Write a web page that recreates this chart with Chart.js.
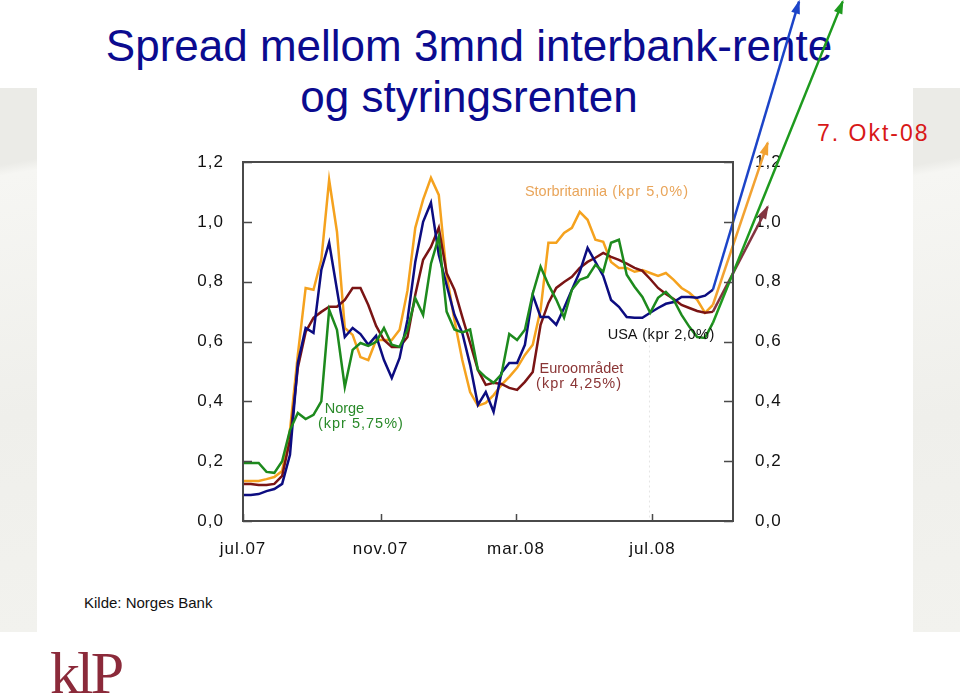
<!DOCTYPE html>
<html>
<head>
<meta charset="utf-8">
<script src="https://cdn.jsdelivr.net/npm/chart.js@4/dist/chart.umd.min.js"></script>
<style>
  html,body{margin:0;padding:0;}
  body{width:960px;height:698px;position:relative;background:#fff;overflow:hidden;font-family:"Liberation Sans",Arial,sans-serif;}
  .panel{position:absolute;top:88px;height:544px;background:linear-gradient(170deg,#ebebe7 0%,#ebebe7 14%,#f6f6f3 16%,#efefeb 60%,#f2f2ee 100%);}
  #pl{left:0;width:37px;}
  #pr{left:913px;width:47px;}
  #title{position:absolute;left:0;top:20px;width:938px;text-align:center;color:#0b0b8f;font-size:44px;line-height:51px;}
  #c{position:absolute;left:0;top:0;}
  #okt{position:absolute;left:817px;top:118px;color:#d81818;font-size:23px;letter-spacing:2px;line-height:30px;}
  #kilde{position:absolute;left:84px;top:594px;font-size:15px;color:#111;}
  #logo{position:absolute;left:50px;top:641px;font-family:"Liberation Serif",serif;font-size:60px;line-height:64px;color:#8b2a3a;letter-spacing:-3px;}
</style>
</head>
<body>
<div class="panel" id="pl"></div>
<div class="panel" id="pr"></div>
<div id="title">Spread mellom 3mnd interbank-rente<br>og styringsrenten</div>
<div id="okt">7. Okt-08</div>
<div id="kilde">Kilde: Norges Bank</div>
<div id="logo">klP</div>
<canvas id="c" width="960" height="698"></canvas>
<script>
// ---- data (weekly observations, spread in percentage points) ----
const dates = [
 '2007-07-01','2007-07-08','2007-07-15','2007-07-22','2007-07-29',
 '2007-08-05','2007-08-12','2007-08-19','2007-08-26',
 '2007-09-02','2007-09-09','2007-09-16','2007-09-23','2007-09-30',
 '2007-10-07','2007-10-14','2007-10-21','2007-10-28',
 '2007-11-04','2007-11-11','2007-11-18','2007-11-25',
 '2007-12-02','2007-12-09','2007-12-16','2007-12-23','2007-12-30',
 '2008-01-06','2008-01-13','2008-01-20','2008-01-27',
 '2008-02-03','2008-02-10','2008-02-17','2008-02-24',
 '2008-03-02','2008-03-09','2008-03-16','2008-03-23','2008-03-30',
 '2008-04-06','2008-04-13','2008-04-20','2008-04-27',
 '2008-05-04','2008-05-11','2008-05-18','2008-05-25',
 '2008-06-01','2008-06-08','2008-06-15','2008-06-22','2008-06-29',
 '2008-07-06','2008-07-13','2008-07-20','2008-07-27',
 '2008-08-03','2008-08-10','2008-08-17','2008-08-24'
];
const usa = [0.087,0.087,0.090,0.100,0.107,0.124,0.221,0.528,0.645,0.629,
 0.839,0.930,0.773,0.615,0.645,0.625,0.589,0.619,0.538,0.478,
 0.545,0.672,0.866,1.000,1.064,0.890,0.789,0.689,0.629,0.522,
 0.388,0.431,0.365,0.495,0.528,0.528,0.589,0.756,0.682,0.682,
 0.656,0.712,0.773,0.833,0.913,0.866,0.819,0.739,0.716,0.682,
 0.679,0.679,0.696,0.712,0.726,0.732,0.749,0.749,0.746,0.753,0.773];
const storbritannia = [0.134,0.134,0.134,0.140,0.147,0.167,0.304,0.555,0.779,0.773,
 0.873,1.140,0.967,0.645,0.622,0.548,0.538,0.605,0.605,0.605,
 0.639,0.770,0.980,1.074,1.147,1.090,0.823,0.672,0.538,0.431,
 0.385,0.395,0.421,0.455,0.482,0.512,0.555,0.589,0.706,0.930,
 0.930,0.963,0.980,1.033,1.007,0.940,0.933,0.866,0.846,0.846,
 0.833,0.839,0.829,0.819,0.829,0.806,0.779,0.763,0.739,0.696,0.722];
const euroomradet = [0.124,0.124,0.120,0.120,0.124,0.151,0.271,0.512,0.632,0.679,
 0.699,0.716,0.716,0.739,0.779,0.779,0.722,0.652,0.605,0.582,
 0.582,0.615,0.756,0.873,0.916,0.980,0.829,0.773,0.682,0.595,
 0.505,0.455,0.462,0.458,0.445,0.438,0.465,0.498,0.656,0.729,
 0.779,0.799,0.816,0.846,0.866,0.880,0.896,0.883,0.873,0.860,
 0.846,0.836,0.809,0.779,0.759,0.742,0.722,0.712,0.702,0.696,0.699];
const norge = [0.194,0.194,0.194,0.164,0.161,0.200,0.304,0.361,0.341,0.355,
 0.400,0.706,0.639,0.448,0.572,0.595,0.585,0.599,0.645,0.589,
 0.582,0.639,0.745,0.689,0.860,0.950,0.700,0.640,0.630,0.640,
 0.505,0.480,0.462,0.490,0.625,0.605,0.639,0.760,0.850,0.790,
 0.740,0.680,0.773,0.806,0.816,0.856,0.833,0.930,0.940,0.823,
 0.783,0.749,0.696,0.746,0.766,0.739,0.689,0.649,0.615,0.612,0.662];
// arrows pointing to the (off-scale) 7 Oct 2008 levels: [days after 1 Jul 2007, level]
const arrowTips = {usa:[497,1.736], storbritannia:[469,1.264], norge:[536,1.736], euroomradet:[469,1.05]};
const tickDates = ['2007-07-01','2007-11-01','2008-03-01','2008-07-01'];
const tickLabels = ['jul.07','nov.07','mar.08','jul.08'];
const axisEndDate = '2008-09-11';

const T0 = Date.UTC(2007,6,1);
const dayOf = d => Math.round((Date.parse(d+'T00:00:00Z') - T0)/86400000);
const pts = arr => dates.map((d,i)=>({x:dayOf(d), y:arr[i]}));
const arrowPts = (arr, tip) => [{x:dayOf(dates[dates.length-1]), y:arr[arr.length-1]}, {x:tip[0], y:tip[1]}];

const COL = {usa:'#0c0c80', uk:'#f5a21e', eu:'#7a1414', no:'#1d8a1d'};
const ACOL = {usa:'#1c44c8', uk:'#f2a232', eu:'#833440', no:'#1e9a1e'};

const lineDs = (data,color) => ({data, borderColor:color, borderWidth:2.5, pointRadius:0, tension:0, fill:false});
const arrowDs = (data,color) => ({data, borderColor:color, borderWidth:2.5, pointRadius:0, tension:0, fill:false, clip:false, isArrow:true});

const annotations = [
  {text:'Storbritannia', x:252, y:1.10, color:'#e9a55a', ls:'0px', after:{text:' (kpr 5,0%)', ls:'1px'}},
  {text:'Norge', x:73, y:0.375, color:'#2a8a2a', ls:'0px'},
  {text:'(kpr 5,75%)', x:67, y:0.324, color:'#2a8a2a', ls:'1px'},
  {text:'Euroområdet', x:265, y:0.508, color:'#8a3535', ls:'0px'},
  {text:'(kpr 4,25%)', x:262, y:0.458, color:'#8a3535', ls:'1px'},
  {text:'USA', x:326, y:0.622, color:'#111', ls:'0px', after:{text:' (kpr 2,0%)', ls:'0.6px'}}
];

const decor = {
  id:'decor',
  beforeDraw(chart){ chart.ctx.letterSpacing = '1px'; },
  beforeDatasetsDraw(chart){
    const {ctx, chartArea:a, scales:{x,y}} = chart;
    const px = x.getPixelForValue(dayOf(tickDates[3])) - 3;
    ctx.save(); ctx.letterSpacing='0px';
    ctx.strokeStyle='#e4e4e4'; ctx.lineWidth=1; ctx.setLineDash([2,3]);
    ctx.beginPath(); ctx.moveTo(px, y.getPixelForValue(0.62)); ctx.lineTo(px, a.bottom); ctx.stroke();
    ctx.restore();
  },
  afterDatasetsDraw(chart){
    const {ctx, scales:{x,y}} = chart;
    ctx.save(); ctx.letterSpacing='0px';
    chart.data.datasets.forEach((ds,i)=>{
      if(!ds.isArrow) return;
      const pts = chart.getDatasetMeta(i).data;
      const p0 = pts[0], p1 = pts[1];
      const ang = Math.atan2(p1.y-p0.y, p1.x-p0.x);
      const L=12, W=4.5;
      ctx.fillStyle = ds.borderColor;
      ctx.beginPath();
      ctx.moveTo(p1.x + Math.cos(ang)*2, p1.y + Math.sin(ang)*2);
      ctx.lineTo(p1.x - Math.cos(ang)*L + Math.cos(ang+Math.PI/2)*W, p1.y - Math.sin(ang)*L + Math.sin(ang+Math.PI/2)*W);
      ctx.lineTo(p1.x - Math.cos(ang)*L - Math.cos(ang+Math.PI/2)*W, p1.y - Math.sin(ang)*L - Math.sin(ang+Math.PI/2)*W);
      ctx.closePath(); ctx.fill();
    });
    ctx.font = '14.5px "Liberation Sans", Arial, sans-serif';
    ctx.textBaseline = 'middle'; ctx.textAlign='left';
    annotations.forEach(an=>{
      const px = x.getPixelForValue(an.x), py = y.getPixelForValue(an.y);
      ctx.fillStyle = an.color; ctx.letterSpacing = an.ls;
      ctx.fillText(an.text, px, py);
      if(an.after){
        const w = ctx.measureText(an.text).width;
        ctx.letterSpacing = an.after.ls;
        ctx.fillText(an.after.text, px+w, py);
      }
    });
    ctx.restore();
  },
  afterDraw(chart){
    const {ctx, chartArea:a, scales:{x,y}} = chart;
    ctx.save(); ctx.letterSpacing='0px';
    ctx.strokeStyle='#4a4a4a'; ctx.lineWidth=2;
    ctx.strokeRect(a.left, a.top, a.right-a.left, a.bottom-a.top);
    ctx.lineWidth=1.5;
    ctx.beginPath();
    y.ticks.forEach(t=>{
      const py = Math.round(y.getPixelForValue(t.value))+0.5;
      ctx.moveTo(a.left, py); ctx.lineTo(a.left+9, py);
      ctx.moveTo(a.right-9, py); ctx.lineTo(a.right, py);
    });
    x.ticks.forEach(t=>{
      const px = Math.round(x.getPixelForValue(t.value))+0.5;
      ctx.moveTo(px, a.bottom-7); ctx.lineTo(px, a.bottom);
    });
    ctx.stroke();
    ctx.restore();
    chart.ctx.letterSpacing='0px';
  }
};

const tickFont = {family:'"Liberation Sans", Arial, sans-serif', size:17};
const yTicks = (pad) => ({stepSize:0.2, padding:pad, color:'#111', font:tickFont,
  callback:v=>v.toFixed(1).replace('.',',')});

new Chart(document.getElementById('c'), {
  type:'line',
  data:{datasets:[
    lineDs(pts(norge), COL.no),
    lineDs(pts(usa), COL.usa),
    lineDs(pts(euroomradet), COL.eu),
    lineDs(pts(storbritannia), COL.uk),
    arrowDs(arrowPts(usa, arrowTips.usa), ACOL.usa),
    arrowDs(arrowPts(storbritannia, arrowTips.storbritannia), ACOL.uk),
    arrowDs(arrowPts(norge, arrowTips.norge), ACOL.no),
    arrowDs(arrowPts(euroomradet, arrowTips.euroomradet), ACOL.eu)
  ]},
  options:{
    responsive:false, animation:false, devicePixelRatio:1,
    layout:{padding:{top:162, left:0, right:167, bottom:127}},
    plugins:{legend:{display:false}, tooltip:{enabled:false}, title:{display:false}},
    scales:{
      x:{type:'linear', min:0, max:dayOf(axisEndDate),
        grid:{display:false, drawTicks:false}, border:{display:false},
        afterBuildTicks:s=>{ s.ticks = tickDates.map(d=>({value:dayOf(d)})); },
        afterFit:s=>{ s.height = 50; },
        ticks:{padding:18, color:'#111', font:tickFont, maxRotation:0, autoSkip:false,
          callback:(v,i)=>tickLabels[i]}
      },
      y:{position:'left', min:0, max:1.2, grid:{display:false, drawTicks:false}, border:{display:false},
        afterFit:s=>{ s.width = 243; }, ticks:yTicks(19)},
      y2:{position:'right', min:0, max:1.2, grid:{display:false, drawTicks:false}, border:{display:false},
        afterFit:s=>{ s.width = 60; }, ticks:yTicks(22)}
    }
  },
  plugins:[decor]
});
</script>
</body>
</html>
